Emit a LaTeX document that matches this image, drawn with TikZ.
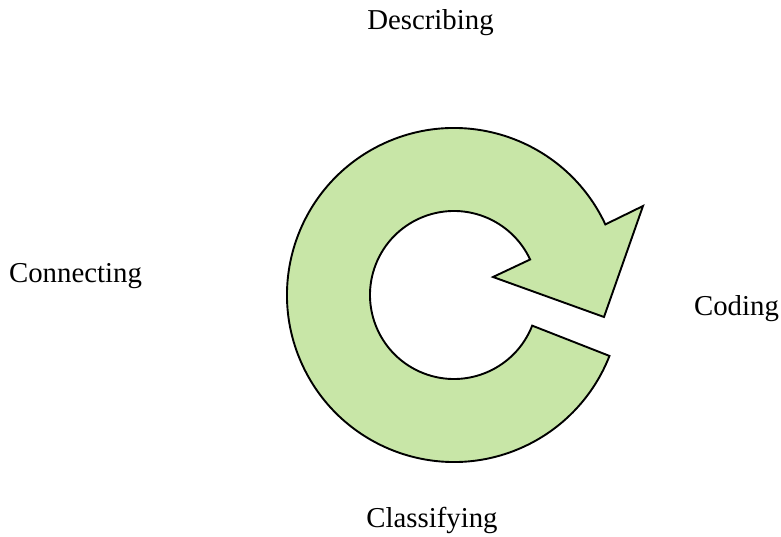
\documentclass[tikz,border=0pt]{standalone}
\usepackage{fontspec}
\setmainfont{Liberation Serif}
\usepackage{tikz}
\definecolor{cyclegreen}{RGB}{200,230,167}

\begin{document}
\begin{tikzpicture}[x=1pt,y=1pt,
  stage/.style={anchor=base,inner sep=0pt,font=\fontsize{28.8}{34}\selectfont}]
  \useasboundingbox (-454,-242) rectangle (327,295);
  % ring from the arrow head round through top, left and bottom to the tail
  \draw[line width=1.9pt,fill=cyclegreen,line join=miter]
    (25:167) arc[start angle=25,end angle=338.6,radius=167]
    -- (338.6:84) arc[start angle=338.6,end angle=25,radius=84]
    -- (39,18) -- (150,-22) -- (189,89) -- cycle;
  \node[stage] (describing) at (-23.5,265) {Describing};
  \node[stage] (coding) at (282.5,-21) {Coding};
  \node[stage] (classifying) at (-22,-232) {Classifying};
  \node[stage] (connecting) at (-378.5,12) {Connecting};
\end{tikzpicture}
\end{document}
